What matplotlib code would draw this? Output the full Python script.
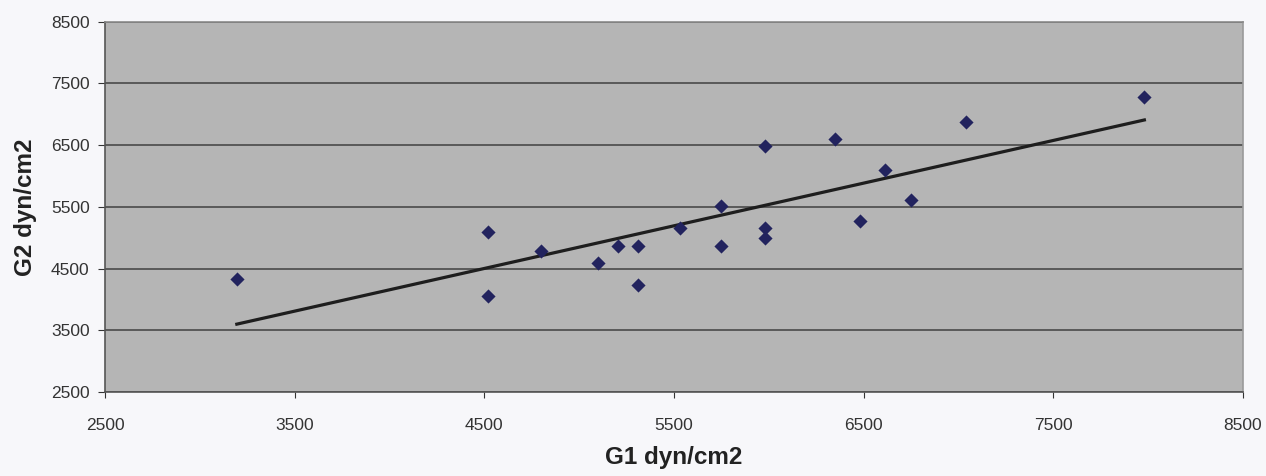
import numpy as np
import matplotlib.pyplot as plt

# G1 / G2 values
g1 = [3195, 4520, 4520, 4800, 5100, 5205, 5310, 5310, 5530, 5750,
      5750, 5980, 5980, 5980, 6350, 6480, 6610, 6750, 7040, 7980]
g2 = [4330, 5090, 4055, 4785, 4595, 4870, 4870, 4235, 5165, 5510,
      4870, 6480, 5165, 4990, 6600, 5265, 6090, 5610, 6870, 7280]

ticks = [2500, 3500, 4500, 5500, 6500, 7500, 8500]

plt.rcParams['font.family'] = ['Liberation Sans', 'DejaVu Sans']

fig = plt.figure(figsize=(12.66, 4.76), dpi=100, facecolor='#f7f7fa')
ax = fig.add_axes([105/1266, 1-392/476, (1243-105)/1266, (392-21.7)/476])
ax.set_facecolor('#b5b5b5')

# linear trend line (least squares), drawn between the extreme x values
x = np.array(g1)
y = np.array(g2)
k, b = np.polyfit(x, y, 1)
xl = np.array([x.min(), x.max()])
ax.plot(xl, k*xl + b, color='#1e1e1e', lw=2.3, zorder=3)

ax.scatter(g1, g2, marker='D', s=52, color='#22235e', zorder=4, linewidths=0)

ax.set_xlim(2500, 8500)
ax.set_ylim(2500, 8500)
ax.set_xticks(ticks)
ax.set_yticks(ticks)
ax.yaxis.grid(True, color='#4a4a4a', lw=1.2)
ax.set_axisbelow(True)

ax.tick_params(axis='x', length=4, pad=15, labelsize=12.5, colors='#333333')
ax.tick_params(axis='y', length=5, pad=6, labelsize=12.5, colors='#333333')

ax.spines['left'].set_color('#555555')
ax.spines['bottom'].set_color('#555555')
ax.spines['top'].set_color('#8a8a8a')
ax.spines['right'].set_color('#9a9a9a')
for s in ax.spines.values():
    s.set_linewidth(1.2)

ax.set_xlabel('G1 dyn/cm2', fontsize=17.5, fontweight='bold', color='#222222', labelpad=9)
ax.set_ylabel('G2 dyn/cm2', fontsize=17.5, fontweight='bold', color='#222222', labelpad=10)

fig.savefig('out.png', dpi=100, facecolor=fig.get_facecolor())
